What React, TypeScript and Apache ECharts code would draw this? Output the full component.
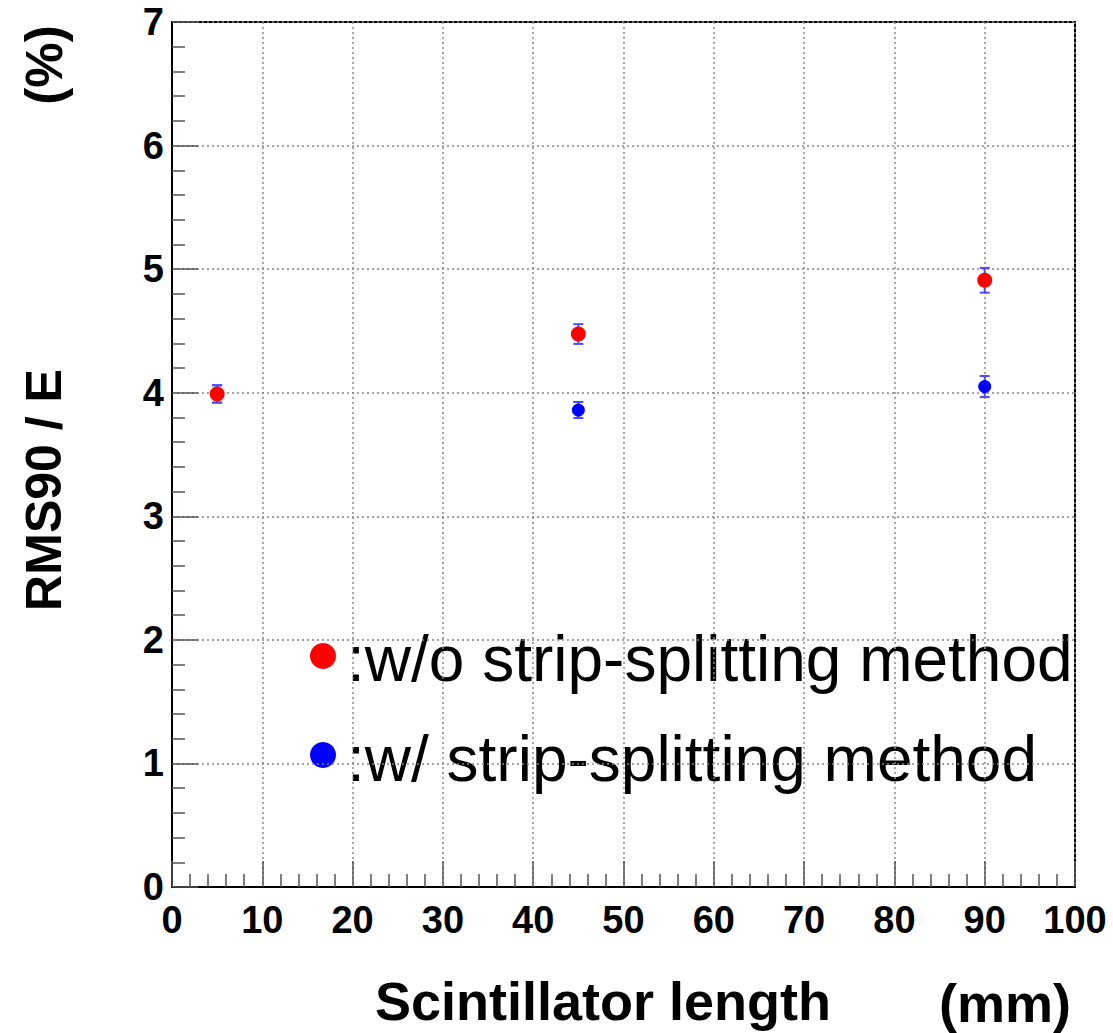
import React, { useEffect, useRef } from "react";
import * as echarts from "echarts";

const xTicks = [0, 10, 20, 30, 40, 50, 60, 70, 80, 90, 100];
const yTicks = [0, 1, 2, 3, 4, 5, 6, 7];
// [length (mm), RMS90/E (%), error]
const withoutSplit = [
  [5, 3.99, 0.07],
  [45, 4.475, 0.08],
  [90, 4.91, 0.1],
];
const withSplit = [
  [5, 3.99, 0.07],
  [45, 3.86, 0.065],
  [90, 4.05, 0.085],
];
const legendLabels = [":w/o strip-splitting method", ":w/ strip-splitting method"];
const colors = ["#ff0000", "#0000ff"];

const FONT = "'Liberation Sans', Arial, Helvetica, sans-serif";

function errorBarSeries(data: number[][], z: number) {
  return {
    type: "custom",
    z,
    silent: true,
    data,
    renderItem: (params: any, api: any) => {
      const x = api.value(0);
      const y = api.value(1);
      const e = api.value(2);
      const top = api.coord([x, y + e]);
      const bot = api.coord([x, y - e]);
      const cap = 5;
      const style = { stroke: "#4a4aff", lineWidth: 2 };
      return {
        type: "group",
        children: [
          { type: "line", shape: { x1: top[0], y1: top[1], x2: bot[0], y2: bot[1] }, style },
          { type: "line", shape: { x1: top[0] - cap, y1: top[1], x2: top[0] + cap, y2: top[1] }, style },
          { type: "line", shape: { x1: bot[0] - cap, y1: bot[1], x2: bot[0] + cap, y2: bot[1] }, style },
        ],
      };
    },
  };
}

export default function App() {
  const ref = useRef<HTMLDivElement>(null);
  useEffect(() => {
    document.body.style.margin = "0";
    const chart = echarts.init(ref.current!, null, { renderer: "svg" });
    const gridLine = { show: true, lineStyle: { color: "#888", type: [2, 3], width: 1.5 } };
    const labelStyle = { color: "#000", fontFamily: FONT, fontWeight: "bold", fontSize: 38 };
    chart.setOption({
      animation: false,
      backgroundColor: "#fff",
      grid: { left: 172, top: 22, right: 38, bottom: 146, show: true, borderColor: "#000", borderWidth: 2, backgroundColor: "transparent" },
      xAxis: {
        type: "value",
        min: 0,
        max: 100,
        interval: 10,
        axisLine: { show: true, lineStyle: { color: "#000", width: 2 } },
        axisTick: { show: true, inside: true, length: 26, lineStyle: { color: "#555", width: 1.5 } },
        minorTick: { show: true, splitNumber: 5, length: 13, lineStyle: { color: "#555", width: 1.5 } },
        splitLine: gridLine,
        axisLabel: { ...labelStyle, margin: 14, formatter: (v: number) => (xTicks.includes(v) ? String(v) : "") },
      },
      yAxis: {
        type: "value",
        min: 0,
        max: 7,
        interval: 1,
        axisLine: { show: true, lineStyle: { color: "#000", width: 2 } },
        axisTick: { show: true, inside: true, length: 26, lineStyle: { color: "#555", width: 1.5 } },
        minorTick: { show: true, splitNumber: 5, length: 13, lineStyle: { color: "#555", width: 1.5 } },
        splitLine: gridLine,
        axisLabel: { ...labelStyle, margin: 8, formatter: (v: number) => (yTicks.includes(v) ? String(v) : "") },
      },
      series: [
        errorBarSeries(withSplit, 3),
        errorBarSeries(withoutSplit, 3),
        {
          type: "scatter",
          z: 4,
          symbol: "circle",
          symbolSize: 13,
          itemStyle: { color: colors[1], opacity: 1 },
          data: withSplit.map((d) => [d[0], d[1]]),
        },
        {
          type: "scatter",
          z: 5,
          symbol: "circle",
          symbolSize: 15,
          itemStyle: { color: colors[0], opacity: 1 },
          data: withoutSplit.map((d) => [d[0], d[1]]),
        },
      ],
      graphic: [
        { type: "text", x: 44, y: 490, rotation: Math.PI / 2, style: { text: "RMS90 / E", font: `bold 50px ${FONT}`, fill: "#000", align: "center", verticalAlign: "middle" } },
        { type: "text", x: 44, y: 65, rotation: Math.PI / 2, style: { text: "(%)", font: `bold 51px ${FONT}`, fill: "#000", align: "center", verticalAlign: "middle" } },
        { type: "text", x: 603, y: 1001, style: { text: "Scintillator length", font: `bold 54px ${FONT}`, fill: "#000", align: "center", verticalAlign: "middle" } },
        { type: "text", x: 1005, y: 1003, style: { text: "(mm)", font: `bold 54px ${FONT}`, fill: "#000", align: "center", verticalAlign: "middle" } },
        { type: "circle", shape: { cx: 323, cy: 656, r: 13 }, style: { fill: colors[0] } },
        { type: "text", x: 347, y: 659, style: { text: legendLabels[0], font: `64px ${FONT}`, fill: "#000", align: "left", verticalAlign: "middle" } },
        { type: "circle", shape: { cx: 323, cy: 755, r: 13 }, style: { fill: colors[1] } },
        { type: "text", x: 347, y: 759, style: { text: legendLabels[1], font: `64px ${FONT}`, fill: "#000", align: "left", verticalAlign: "middle" } },
      ],
    });
    return () => chart.dispose();
  }, []);
  return <div ref={ref} style={{ width: 1113, height: 1033 }} />;
}
